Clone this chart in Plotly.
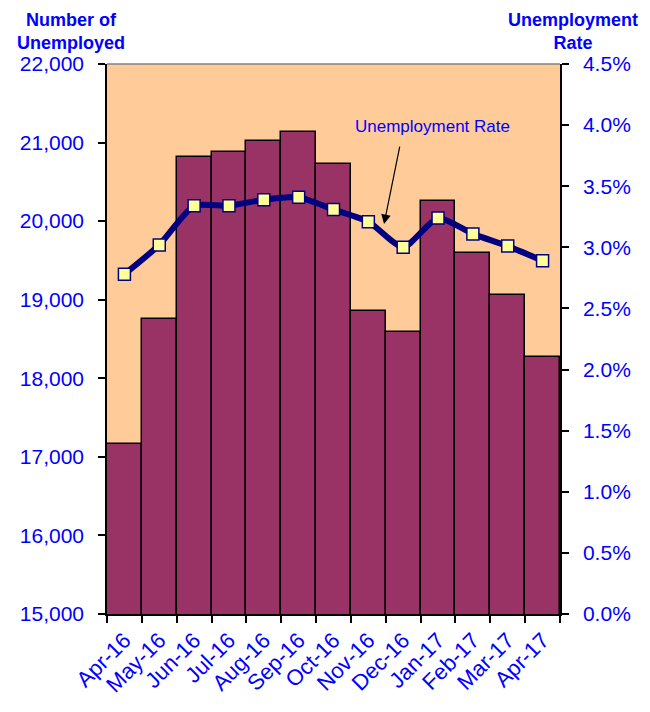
import plotly.graph_objects as go

months = ["Apr-16", "May-16", "Jun-16", "Jul-16", "Aug-16", "Sep-16", "Oct-16",
          "Nov-16", "Dec-16", "Jan-17", "Feb-17", "Mar-17", "Apr-17"]
unemployed = [17160, 18750, 20820, 20885, 21020, 21130, 20730,
              18860, 18595, 20260, 19600, 19065, 18270]
rate = [2.78, 3.02, 3.34, 3.34, 3.39, 3.41, 3.31, 3.21, 3.00, 3.24, 3.11, 3.01, 2.89]

left_ticks = [15000, 16000, 17000, 18000, 19000, 20000, 21000, 22000]
right_ticks = [0, 0.5, 1.0, 1.5, 2.0, 2.5, 3.0, 3.5, 4.0, 4.5]

FONT = "Liberation Sans, Arial, sans-serif"
BLUE = "#0000FF"
TICKFONT = dict(size=21, color=BLUE, family=FONT)

fig = go.Figure()
fig.add_trace(go.Bar(
    x=months, y=unemployed, base=0,
    marker=dict(color="#993366", line=dict(color="black", width=1.5)),
    yaxis="y", showlegend=False, hoverinfo="x+y",
))
fig.add_trace(go.Scatter(
    x=months, y=rate, yaxis="y2", mode="lines+markers",
    line=dict(color="#000080", width=6, shape="spline", smoothing=0.6),
    marker=dict(symbol="square", size=12, color="#FFFF99",
                line=dict(color="#000080", width=1.5)),
    showlegend=False,
))

common = dict(showline=True, linecolor="black", linewidth=1.5, showgrid=False,
              zeroline=False, automargin=False)

fig.update_layout(
    width=650, height=712,
    margin=dict(l=107, r=90, t=64, b=98),
    paper_bgcolor="white", plot_bgcolor="#FFCC99",
    bargap=0,
    font=dict(family=FONT, color=BLUE, size=19),
    xaxis=dict(
        type="category", range=[-0.5, len(months) - 0.5],
        tickangle=-45, tickson="boundaries",
        ticks="outside", ticklen=7, tickcolor="black", tickwidth=1.5,
        tickfont=dict(size=22, color=BLUE, family=FONT), ticklabelstandoff=3,
        **common,
    ),
    yaxis=dict(
        range=[15000, 22000], tickvals=left_ticks,
        ticktext=[f"{v:,}" for v in left_ticks],
        ticks="outside", ticklen=7, tickcolor="black", tickwidth=1.5,
        tickfont=TICKFONT, ticklabelstandoff=10,
        **common,
    ),
    yaxis2=dict(
        range=[0, 4.5], overlaying="y", side="right", anchor="x",
        tickvals=right_ticks, ticktext=[f"{v:.1f}%" for v in right_ticks],
        ticks="outside", ticklen=7, tickcolor="black", tickwidth=1.5,
        tickfont=TICKFONT, ticklabelstandoff=10,
        **common,
    ),
    yaxis3=dict(
        range=[15000, 22000], tickvals=left_ticks, overlaying="y", side="left",
        anchor="x", ticks="inside", ticklen=7, tickcolor="black", tickwidth=1.5,
        showticklabels=False, **common,
    ),
    yaxis4=dict(
        range=[0, 4.5], tickvals=right_ticks, overlaying="y", side="right",
        anchor="x", ticks="inside", ticklen=7, tickcolor="black", tickwidth=1.5,
        showticklabels=False, **common,
    ),
    shapes=[dict(type="line", xref="paper", yref="paper", x0=0, x1=1, y0=1, y1=1,
                 line=dict(color="#808080", width=1.5))],
    annotations=[
        dict(text="<b>Number of<br>Unemployed</b>", xref="paper", yref="paper",
             x=-0.0795, y=1.102, xanchor="center", yanchor="top", showarrow=False,
             align="center", font=dict(size=18, color=BLUE, family=FONT)),
        dict(text="<b>Unemployment<br>Rate</b>", xref="paper", yref="paper",
             x=1.0287, y=1.102, xanchor="center", yanchor="top", showarrow=False,
             align="center", font=dict(size=18, color=BLUE, family=FONT)),
        dict(text="Unemployment Rate", xref="x", yref="y2",
             x=8.85, y=3.985, showarrow=False,
             font=dict(size=17, color=BLUE, family=FONT)),
        dict(text="", xref="x", yref="y2", x=7.45, y=3.19,
             ax=16, ay=-79, axref="pixel", ayref="pixel",
             showarrow=True, arrowhead=2, arrowsize=1.6, arrowwidth=1.2,
             arrowcolor="black", standoff=0),
    ],
)

fig.write_html("out.html",
               config={"displayModeBar": False},
               post_script="document.body.style.margin='0';"
                           "document.body.style.overflow='hidden';")
